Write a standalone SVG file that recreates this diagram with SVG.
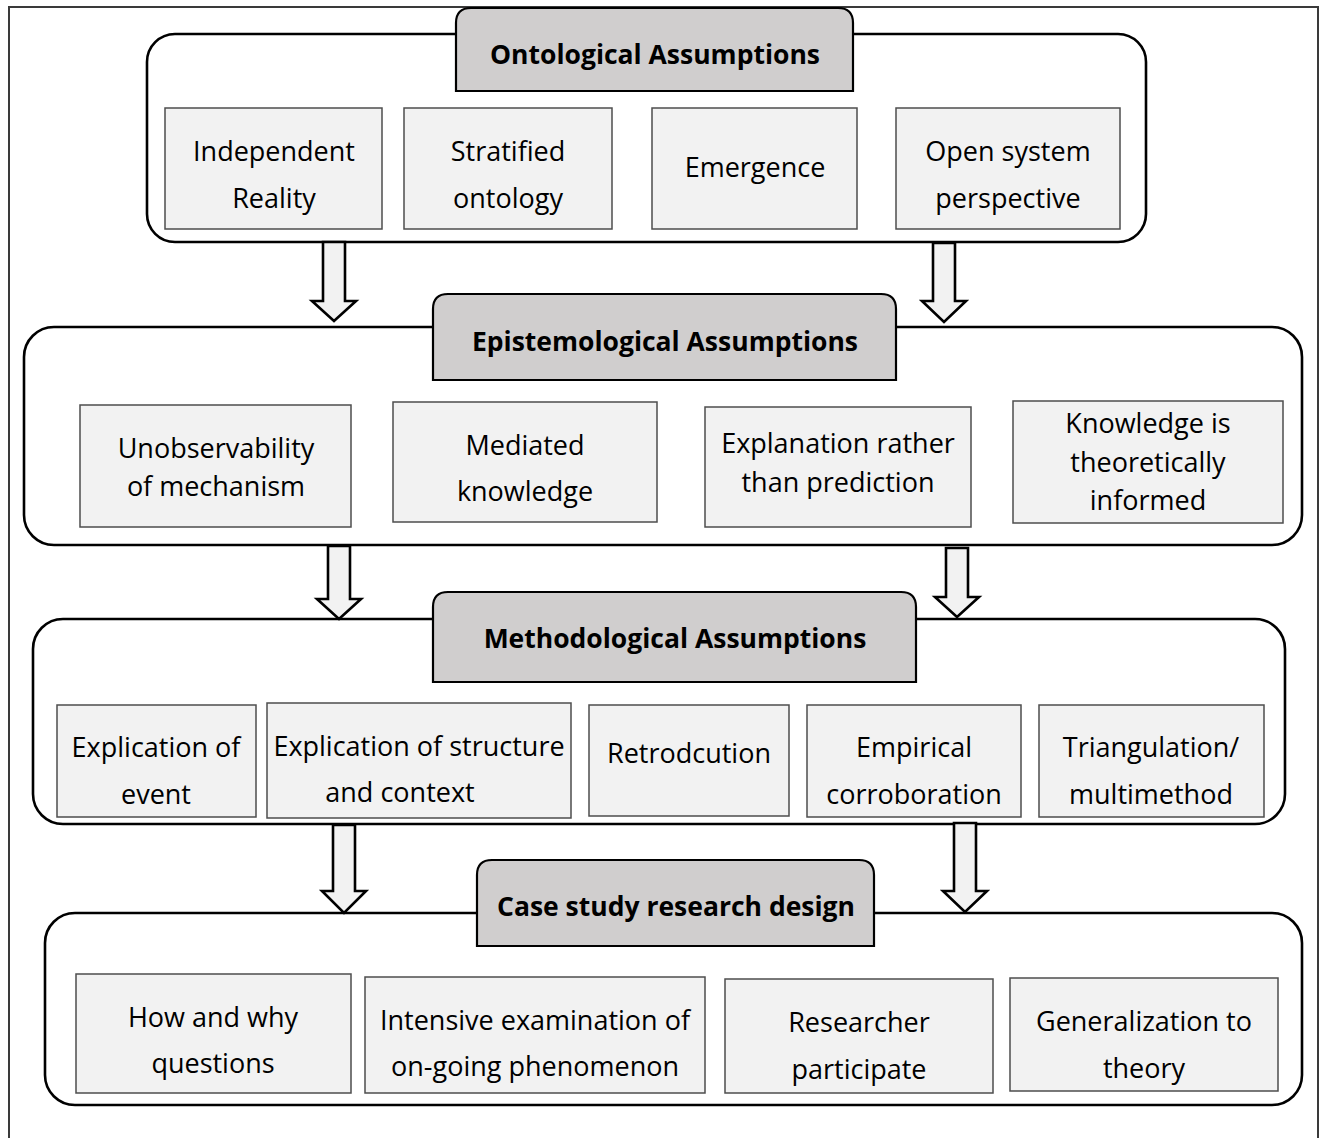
<svg xmlns="http://www.w3.org/2000/svg" width="1320" height="1138" viewBox="0 0 1320 1138">
  <style>
    .frame { fill: none; stroke: #3a3a3a; stroke-width: 2; }
    .layer { fill: #ffffff; stroke: #000000; stroke-width: 2.6; }
    .title { fill: #d0cece; stroke: #000000; stroke-width: 2.2; }
    .item { fill: #f2f2f2; stroke: #4d4d4d; stroke-width: 1.5; }
    .arrow { fill: #f2f2f2; stroke: #000000; stroke-width: 2.6; stroke-linejoin: miter; }
    text { font-family: "Open Sans", "Liberation Sans", sans-serif; fill: #000000; text-anchor: middle; }
    .tt { font-size: 26.5px; font-weight: bold; }
    .it { font-size: 27px; }
  </style>

  <rect class="frame" x="9" y="7" width="1309" height="1145"/>

  <!-- Layer 1: ontological assumptions -->
  <g id="ontological">
    <rect class="layer" x="147" y="34" width="999" height="208" rx="28"/>
    <path class="title" d="M456,91 V23 Q456,8 471,8 H838 Q853,8 853,23 V91 Z"/>
    <text class="tt" x="655" y="64">Ontological Assumptions</text>
  </g>
  <g id="independent-reality">
    <rect class="item" x="165" y="108" width="217" height="121"/>
    <text class="it" x="274" y="161">Independent</text>
    <text class="it" x="274" y="208">Reality</text>
  </g>
  <g id="stratified-ontology">
    <rect class="item" x="404" y="108" width="208" height="121"/>
    <text class="it" x="508" y="161">Stratified</text>
    <text class="it" x="508" y="208">ontology</text>
  </g>
  <g id="emergence">
    <rect class="item" x="652" y="108" width="205" height="121"/>
    <text class="it" x="755" y="177">Emergence</text>
  </g>
  <g id="open-system">
    <rect class="item" x="896" y="108" width="224" height="121"/>
    <text class="it" x="1008" y="161">Open system</text>
    <text class="it" x="1008" y="208">perspective</text>
  </g>

  <!-- Layer 2: epistemological assumptions -->
  <g id="epistemological">
    <rect class="layer" x="24" y="327" width="1278" height="218" rx="30"/>
    <path class="title" d="M433,380 V309 Q433,294 448,294 H881 Q896,294 896,309 V380 Z"/>
    <text class="tt" x="665" y="351">Epistemological Assumptions</text>
  </g>
  <g id="unobservability">
    <rect class="item" x="80" y="405" width="271" height="122"/>
    <text class="it" x="216" y="458">Unobservability</text>
    <text class="it" x="216" y="496">of mechanism</text>
  </g>
  <g id="mediated-knowledge">
    <rect class="item" x="393" y="402" width="264" height="120"/>
    <text class="it" x="525" y="455">Mediated</text>
    <text class="it" x="525" y="501">knowledge</text>
  </g>
  <g id="explanation">
    <rect class="item" x="705" y="407" width="266" height="120"/>
    <text class="it" x="838" y="453">Explanation rather</text>
    <text class="it" x="838" y="492">than prediction</text>
  </g>
  <g id="theoretically-informed">
    <rect class="item" x="1013" y="401" width="270" height="122"/>
    <text class="it" x="1148" y="433">Knowledge is</text>
    <text class="it" x="1148" y="472">theoretically</text>
    <text class="it" x="1148" y="510">informed</text>
  </g>

  <!-- Layer 3: methodological assumptions -->
  <g id="methodological">
    <rect class="layer" x="33" y="619" width="1252" height="205" rx="30"/>
    <path class="title" d="M433,682 V607 Q433,592 448,592 H901 Q916,592 916,607 V682 Z"/>
    <text class="tt" x="675" y="648">Methodological Assumptions</text>
  </g>
  <g id="explication-event">
    <rect class="item" x="57" y="705" width="199" height="112"/>
    <text class="it" x="156" y="757">Explication of</text>
    <text class="it" x="156" y="804">event</text>
  </g>
  <g id="explication-structure">
    <rect class="item" x="267" y="703" width="304" height="115"/>
    <text class="it" x="419" y="756">Explication of structure</text>
    <text class="it" x="400" y="802">and context</text>
  </g>
  <g id="retroduction">
    <rect class="item" x="589" y="705" width="200" height="111"/>
    <text class="it" x="689" y="763">Retrodcution</text>
  </g>
  <g id="empirical-corroboration">
    <rect class="item" x="807" y="705" width="214" height="112"/>
    <text class="it" x="914" y="757">Empirical</text>
    <text class="it" x="914" y="804">corroboration</text>
  </g>
  <g id="triangulation">
    <rect class="item" x="1039" y="705" width="225" height="112"/>
    <text class="it" x="1151" y="757">Triangulation/</text>
    <text class="it" x="1151" y="804">multimethod</text>
  </g>

  <!-- Layer 4: case study research design -->
  <g id="case-study">
    <rect class="layer" x="45" y="913" width="1257" height="192" rx="30"/>
    <path class="title" d="M477,946 V875 Q477,860 492,860 H859 Q874,860 874,875 V946 Z"/>
    <text class="tt" x="676" y="916">Case study research design</text>
  </g>
  <g id="how-why">
    <rect class="item" x="76" y="974" width="275" height="119"/>
    <text class="it" x="213" y="1027">How and why</text>
    <text class="it" x="213" y="1073">questions</text>
  </g>
  <g id="intensive-examination">
    <rect class="item" x="365" y="977" width="340" height="116"/>
    <text class="it" x="535" y="1030">Intensive examination of</text>
    <text class="it" x="535" y="1076">on-going phenomenon</text>
  </g>
  <g id="researcher-participate">
    <rect class="item" x="725" y="979" width="268" height="114"/>
    <text class="it" x="859" y="1032">Researcher</text>
    <text class="it" x="859" y="1079">participate</text>
  </g>
  <g id="generalization">
    <rect class="item" x="1010" y="978" width="268" height="113"/>
    <text class="it" x="1144" y="1031">Generalization to</text>
    <text class="it" x="1144" y="1078">theory</text>
  </g>

  <!-- Block arrows between layers -->
  <g id="connectors">
    <path class="arrow" d="M323,242 H345 V301 H356 L334,321 L312,301 H323 Z"/>
    <path class="arrow" d="M933,243 H955 V301 H966 L944,322 L922,301 H933 Z"/>
    <path class="arrow" d="M328,546 H350 V599 H361 L339,619 L317,599 H328 Z"/>
    <path class="arrow" d="M946,548 H968 V597 H979 L957,617 L935,597 H946 Z"/>
    <path class="arrow" d="M333,825 H355 V891 H366 L344,913 L322,891 H333 Z"/>
    <path class="arrow" d="M954,823 H976 V891 H987 L965,912 L943,891 H954 Z"/>
  </g>
</svg>
